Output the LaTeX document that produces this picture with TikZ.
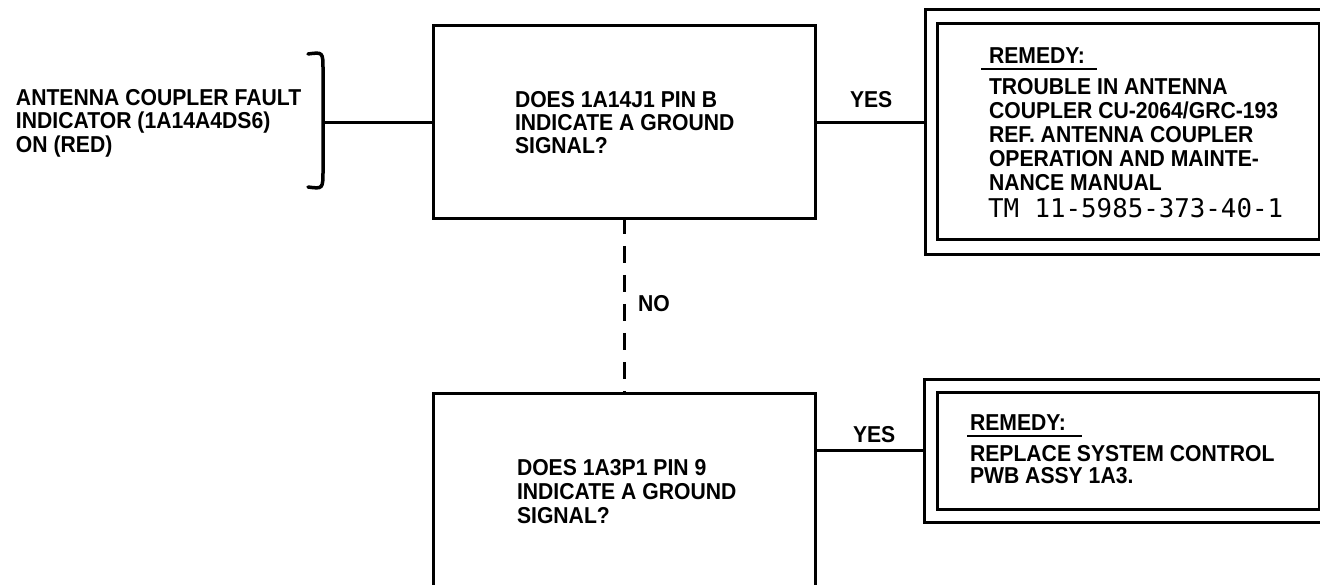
\documentclass[tikz,border=0pt]{standalone}
\usepackage{fontspec}
\setmainfont{Liberation Sans}
\newfontfamily\labfont{Liberation Sans}[FakeStretch=0.92]
\newfontfamily\tmfont{DejaVu Sans Mono}
\begin{document}
\begin{tikzpicture}[x=1pt,y=-1pt,
  every node/.style={inner sep=0pt, outer sep=0pt},
  qbox/.style={draw, line width=3pt, minimum width=382pt, minimum height=193pt, anchor=north west},
  rbox/.style={draw, line width=3pt, anchor=north west},
  lbl/.style={font=\labfont\bfseries\fontsize{23}{23.5}\selectfont, align=left, anchor=base west},
  conn/.style={line width=3pt},
  bracestroke/.style={line width=3.5pt, line cap=round},
  uline/.style={line width=2pt},
  dashconn/.style={line width=3pt, dash pattern=on 17pt off 12pt, dash phase=2pt}
]
\useasboundingbox (0,0) rectangle (1320,585);
\clip (0,0) rectangle (1320,585);

% decision boxes
\node[qbox] (q1) at (433,26) {};
\node[qbox, minimum height=230pt] (q2) at (433,393) {};

% remedy boxes (double frames)
\node[rbox, minimum width=410pt, minimum height=245pt] (r1o) at (925,10) {};
\node[rbox, minimum width=382pt, minimum height=216pt] (r1i) at (937,24) {};
\node[rbox, minimum width=410pt, minimum height=143pt] (r2o) at (924,379) {};
\node[rbox, minimum width=382pt, minimum height=117pt] (r2i) at (937,392) {};

% brace
\coordinate (bm) at (323,122.5);
\draw[bracestroke] (308,54) .. controls (323,52) .. (323,70) -- (323,170) .. controls (323,189) .. (308,187);

% connectors
\draw[conn] (bm) -- (q1.west);
\draw[conn] (q1.east) -- (q1.east -| r1o.west);
\draw[conn] (r2o.west -| q2.east) -- (r2o.west);
\draw[dashconn] (q1.south) -- (q1.south |- q2.north);

% labels (anchor = baseline of the last line)
\node[lbl] (yes1) at (850,108) {YES};
\node[lbl] (yes2) at (853,442) {YES};
\node[lbl] (no) at (638,312) {NO};

\node[lbl, font=\labfont\bfseries\fontsize{23}{23.8}\selectfont] (cond) at (16,152.7) {ANTENNA COUPLER FAULT\\INDICATOR (1A14A4DS6)\\ON (RED)};
\node[lbl, font=\labfont\bfseries\fontsize{23}{23}\selectfont] (q1t) at (515,154) {DOES 1A14J1 PIN B\\INDICATE A GROUND\\SIGNAL?};
\node[lbl, font=\labfont\bfseries\fontsize{23}{24}\selectfont] (q2t) at (517,523) {DOES 1A3P1 PIN 9\\INDICATE A GROUND\\SIGNAL?};

\node[lbl] (rem1) at (989,64) {REMEDY:};
\draw[uline] ([shift={(-8,5)}]rem1.base west) -- ([shift={(12,5)}]rem1.base east);
\node[lbl, font=\labfont\bfseries\fontsize{23}{24}\selectfont] (r1t) at (989,191) {TROUBLE IN ANTENNA\\COUPLER CU-2064/GRC-193\\REF. ANTENNA COUPLER\\OPERATION AND MAINTE-\\NANCE MANUAL};
\node[anchor=base west, font=\tmfont\fontsize{25.8}{28}\selectfont] (r1tm) at (988,218) {TM 11-5985-373-40-1};

\node[lbl] (rem2) at (970,430) {REMEDY:};
\draw[uline] ([shift={(-3,6)}]rem2.base west) -- ([shift={(16,6)}]rem2.base east);
\node[lbl, font=\labfont\bfseries\fontsize{23}{22}\selectfont] (r2t) at (970,483) {REPLACE SYSTEM CONTROL\\PWB ASSY 1A3.};
\end{tikzpicture}
\end{document}
